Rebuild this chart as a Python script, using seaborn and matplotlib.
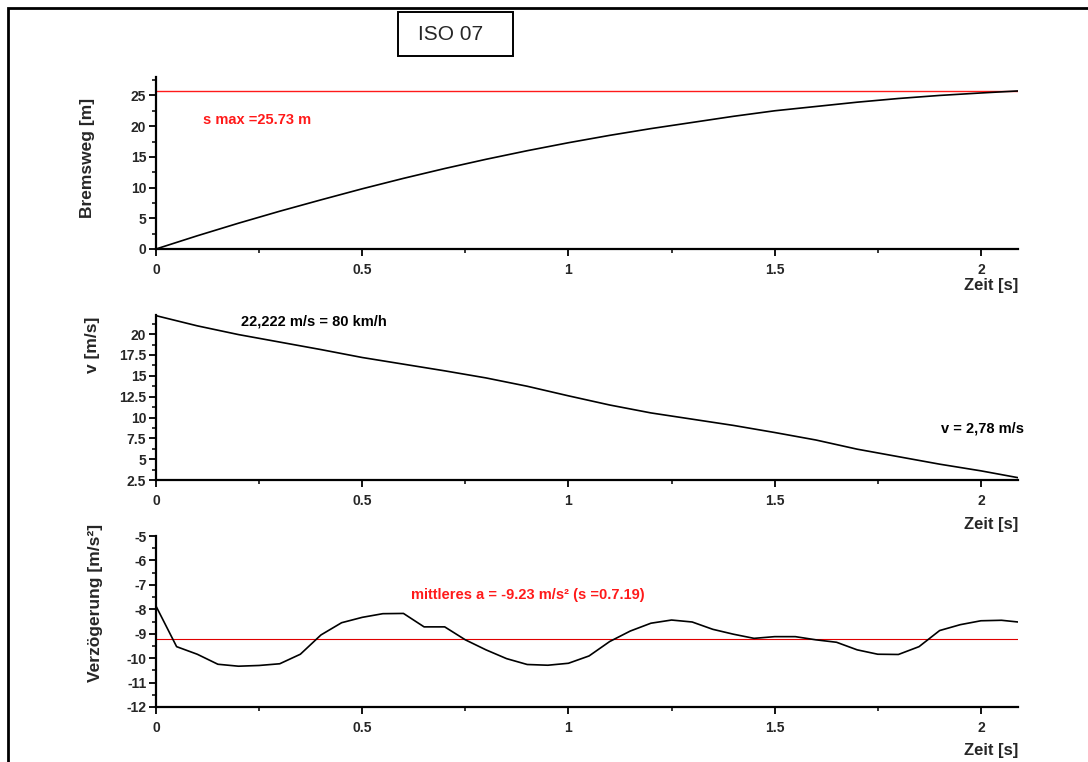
import numpy as np
import pandas as pd
import matplotlib
matplotlib.use("Agg")
import matplotlib.pyplot as plt
from matplotlib.ticker import MultipleLocator, FormatStrFormatter
from matplotlib.patches import Rectangle
import seaborn as sns

# ---- data ----
t_s = [0, 0.1, 0.2, 0.3, 0.4, 0.5, 0.6, 0.7, 0.8, 0.9, 1.0, 1.1, 1.2, 1.3, 1.4,
       1.5, 1.6, 1.7, 1.8, 1.9, 2.0, 2.09]
s_vals = [0, 2.15, 4.2, 6.15, 8.0, 9.8, 11.5, 13.1, 14.6, 16.0, 17.3, 18.5, 19.6,
          20.6, 21.6, 22.5, 23.2, 23.9, 24.5, 25.0, 25.4, 25.73]
v_vals = [22.222, 21.0, 19.95, 19.05, 18.15, 17.2, 16.4, 15.6, 14.75, 13.75, 12.6,
          11.5, 10.55, 9.8, 9.05, 8.2, 7.3, 6.2, 5.3, 4.4, 3.6, 2.78]
t_a = [0, 0.05, 0.1, 0.15, 0.2, 0.25, 0.3, 0.35, 0.4, 0.45, 0.5, 0.55, 0.6, 0.65,
       0.7, 0.75, 0.8, 0.85, 0.9, 0.95, 1.0, 1.05, 1.1, 1.15, 1.2, 1.25, 1.3, 1.35,
       1.4, 1.45, 1.5, 1.55, 1.6, 1.65, 1.7, 1.75, 1.8, 1.85, 1.9, 1.95, 2.0, 2.05, 2.09]
a_vals = [-7.87, -9.53, -9.84, -10.25, -10.33, -10.30, -10.23, -9.84, -9.05, -8.55,
          -8.33, -8.18, -8.17, -8.72, -8.72, -9.25, -9.66, -10.02, -10.26, -10.29,
          -10.21, -9.91, -9.32, -8.89, -8.57, -8.44, -8.52, -8.82, -9.02, -9.19,
          -9.12, -9.12, -9.25, -9.35, -9.66, -9.84, -9.85, -9.53, -8.87, -8.63,
          -8.47, -8.45, -8.52]
s_max = 25.73
a_mean = -9.23

title = "ISO 07"
xlabel = "Zeit [s]"
ylabels = ["Bremsweg [m]", "v [m/s]", "Verzögerung [m/s²]"]
txt_smax = "s max =25.73 m"
txt_v0 = "22,222 m/s = 80 km/h"
txt_vend = "v = 2,78 m/s"
txt_amean = "mittleres a = -9.23 m/s² (s =0.7.19)"

# ---- style ----
sns.set_style("ticks")
plt.rcParams['font.family'] = ['Liberation Sans', 'DejaVu Sans']
plt.rcParams['font.weight'] = 'bold'
plt.rcParams['axes.unicode_minus'] = False

W, H = 1088, 762
fig = plt.figure(figsize=(W / 100, H / 100), dpi=100)
fig.patch.set_facecolor('white')

def axes_px(left, top, right, bottom):
    return fig.add_axes([left / W, 1 - bottom / H, (right - left) / W, (bottom - top) / H])

ax1 = axes_px(156, 77, 1018, 249)
ax2 = axes_px(156, 315, 1018, 480)
ax3 = axes_px(156, 536, 1018, 707)

df_s = pd.DataFrame({"t": t_s, "s": s_vals})
df_v = pd.DataFrame({"t": t_s, "v": v_vals})
df_a = pd.DataFrame({"t": t_a, "a": a_vals})

sns.lineplot(data=df_s, x="t", y="s", ax=ax1, color="black", lw=1.2)
ax1.axhline(s_max, color="#ff1a1a", lw=1.0, zorder=1)
sns.lineplot(data=df_v, x="t", y="v", ax=ax2, color="black", lw=1.2)
sns.lineplot(data=df_a, x="t", y="a", ax=ax3, color="black", lw=1.2)
ax3.axhline(a_mean, color="#e00000", lw=0.8, zorder=1)

ylims = [(0, 28), (2.5, 22.3), (-12, -5)]
ymaj = [5, 2.5, 1]
ymin = [2.5, 1.25, 0.5]
ylab_pos = [(-0.071, 0.53), (-0.065, 0.82), (-0.061, 0.61)]
zeit_y = [286, 524, 750]

for ax, yl, mj, mn, lab, lp, zy in zip([ax1, ax2, ax3], ylims, ymaj, ymin, ylabels, ylab_pos, zeit_y):
    ax.set_xlim(0, 2.09)
    ax.set_ylim(*yl)
    ax.set_facecolor('none')
    for side in ['top', 'right']:
        ax.spines[side].set_visible(False)
    for side in ['left', 'bottom']:
        ax.spines[side].set_linewidth(1.6)
        ax.spines[side].set_color('black')
    ax.xaxis.set_major_locator(MultipleLocator(0.5))
    ax.xaxis.set_minor_locator(MultipleLocator(0.25))
    ax.yaxis.set_major_locator(MultipleLocator(mj))
    ax.yaxis.set_minor_locator(MultipleLocator(mn))
    ax.xaxis.set_major_formatter(FormatStrFormatter('%g'))
    ax.yaxis.set_major_formatter(FormatStrFormatter('%g'))
    ax.tick_params(axis='both', which='major', direction='out', length=5, width=1.3,
                   labelsize=10, color='black')
    ax.tick_params(axis='both', which='minor', direction='out', length=3, width=1.1, color='black')
    ax.tick_params(axis='x', which='major', pad=5)
    ax.tick_params(axis='y', which='major', pad=2)
    for lbl in ax.get_xticklabels() + ax.get_yticklabels():
        lbl.set_fontweight('bold')
    ax.set_xlabel("")
    ax.set_ylabel(lab, fontsize=12.5, fontweight='bold')
    ax.yaxis.set_label_coords(*lp)
    fig.text(1018 / W, 1 - zy / H, xlabel, ha='right', va='center', fontsize=12, fontweight='bold')

# annotations
ax1.text(0.114, 21.0, txt_smax, color="#ff1a1a", fontsize=10.5, fontweight='bold', va='center', ha='left')
ax2.text(0.205, 21.5, txt_v0, color="black", fontsize=10.5, fontweight='bold', va='center', ha='left')
ax2.text(2.105, 8.66, txt_vend, color="black", fontsize=10.5, fontweight='bold', va='center', ha='right',
         clip_on=False)
ax3.text(0.619, -7.4, txt_amean, color="#ff1a1a", fontsize=10.5, fontweight='bold', va='center', ha='left')

# outer frame and title box
fig.patches.append(Rectangle((7.5 / W, -0.1), 1.2, 1 - 7.5 / H + 0.1, transform=fig.transFigure,
                             fill=False, lw=2.0, edgecolor='black'))
fig.patches.append(Rectangle((397.5 / W, 1 - 55.7 / H), (513 - 397.5) / W, (55.7 - 12.3) / H,
                             transform=fig.transFigure, fill=False, lw=1.4, edgecolor='black'))
fig.text(451 / W, 1 - 35 / H, title, ha='center', va='center', fontsize=15, fontweight='normal')

fig.savefig("out.png", dpi=100)
